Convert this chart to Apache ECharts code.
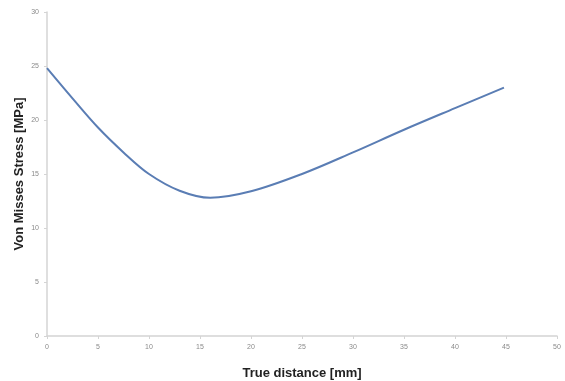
<!DOCTYPE html>
<html>
<head>
<meta charset="utf-8">
<script src="https://cdn.jsdelivr.net/npm/echarts@6/dist/echarts.min.js"></script>
<style>
  html, body { margin: 0; padding: 0; background: #fff; }
  #chart { width: 565px; height: 381px; }
</style>
</head>
<body>
<div id="chart"></div>
<script>
  // distance along the part [mm]
  var distance = [0, 2.5, 5, 7.5, 10, 13, 16, 20, 25, 30, 35, 40, 44.8];
  // von mises stress [MPa]
  var stress = [24.8, 22.0, 19.3, 17.0, 15.0, 13.45, 12.8, 13.4, 15.0, 17.0, 19.1, 21.1, 23.0];

  var points = distance.map(function (d, i) { return [d, stress[i]]; });

  var chart = echarts.init(document.getElementById('chart'));
  var axisGray = '#d4d4d4';
  var labelGray = '#8a8a8a';

  var option = {
    animation: false,
    grid: {
      left: 47,
      right: 8,
      top: 12,
      bottom: 45,
      containLabel: false,
      outerBoundsMode: 'none'
    },
    xAxis: {
      type: 'value',
      min: 0,
      max: 50,
      interval: 5,
      name: 'True distance [mm]',
      nameLocation: 'middle',
      nameGap: 31,
      nameTextStyle: {
        fontFamily: 'Liberation Sans',
        fontWeight: 'bold',
        fontSize: 13,
        color: '#222'
      },
      axisLine: { lineStyle: { color: axisGray, width: 1.5 } },
      axisTick: { length: 3, lineStyle: { color: axisGray } },
      axisLabel: { fontSize: 7, color: labelGray, margin: 8 },
      splitLine: { show: false }
    },
    yAxis: {
      type: 'value',
      min: 0,
      max: 30,
      interval: 5,
      name: 'Von Misses Stress [MPa]',
      nameLocation: 'middle',
      nameGap: 21,
      nameMoveOverlap: false,
      nameTextStyle: {
        fontFamily: 'Liberation Sans',
        fontWeight: 'bold',
        fontSize: 13,
        color: '#222'
      },
      axisLine: { show: true, lineStyle: { color: axisGray, width: 1.5 } },
      axisTick: { show: true, length: 3, lineStyle: { color: axisGray } },
      axisLabel: { fontSize: 7, color: labelGray, margin: 8 },
      splitLine: { show: false }
    },
    series: [{
      type: 'line',
      data: points,
      smooth: 0.35,
      showSymbol: false,
      lineStyle: {
        color: '#5a7db4',
        width: 2
      }
    }]
  };

  chart.setOption(option);
</script>
</body>
</html>
